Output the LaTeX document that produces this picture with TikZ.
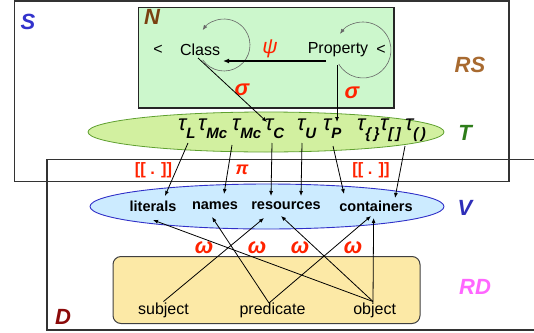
\documentclass[tikz,border=0pt]{standalone}
\usepackage{fontspec}
\setmainfont{Liberation Sans}
\usetikzlibrary{shapes.geometric,arrows.meta}
\definecolor{nfill}{HTML}{CCF7CC}
\definecolor{tfill}{HTML}{D2F0A0}
\definecolor{tline}{HTML}{5FA030}
\definecolor{vfill}{HTML}{CCEBFF}
\definecolor{vline}{HTML}{3030C8}
\definecolor{rdfill}{HTML}{FCE9A6}
\definecolor{sblue}{HTML}{3333CC}
\definecolor{nbrown}{HTML}{7A4010}
\definecolor{rsbrown}{HTML}{A86A30}
\definecolor{tgreen}{HTML}{2E7D1A}
\definecolor{vblue}{HTML}{2E2EB8}
\definecolor{rdpink}{HTML}{FF66FF}
\definecolor{dred}{HTML}{8B0A0A}
\definecolor{lblred}{HTML}{FF2200}
\newcommand{\tsub}[1]{\raisebox{-8pt}{\fontsize{15}{15}\selectfont\bfseries\itshape #1}}
\tikzset{
  frame/.style={draw=black!80, line width=1.3pt, rectangle, inner sep=0pt},
  txt/.style={inner sep=0pt, font=\fontsize{16}{18}\selectfont},
  vtxt/.style={inner sep=0pt, font=\fontsize{14.5}{17}\selectfont\bfseries},
  biglbl/.style={inner sep=0pt, font=\fontsize{22}{24}\selectfont\bfseries\itshape},
  greek/.style={inner sep=0pt, text=lblred, font=\fontsize{22}{24}\selectfont\bfseries\itshape},
  redlbl/.style={inner sep=0pt, text=lblred, font=\fontsize{16.5}{18}\selectfont\bfseries},
  arr/.style={-{Latex[length=5pt,width=4pt]}, line width=0.8pt},
  thickarr/.style={-{Latex[length=6pt,width=5pt]}, line width=1.3pt},
  looparr/.style={-{Latex[length=5pt,width=4pt]}, draw=black!60, line width=0.6pt},
  taun/.style={inner sep=0pt, anchor=base west, font=\fontsize{22}{24}\selectfont\itshape}
}
\begin{document}
\begin{tikzpicture}[x=1pt,y=-1pt]
\useasboundingbox (0,0) rectangle (534,332);
\clip (0,0) rectangle (534,332);
% outer frames
\node[frame, minimum width=494.7pt, minimum height=180.5pt] (Sbox) at (261.65,91.25) {};
\node[frame, minimum width=513pt, minimum height=170.5pt] (Dbox) at (303.5,244.75) {};
% N box
\node[frame, draw=black!85, line width=1.2pt, fill=nfill, minimum width=255.5pt, minimum height=100.5pt] (Nbox) at (266.25,57.75) {};
% T ellipse
\node[ellipse, draw=tline, line width=0.8pt, fill=tfill, minimum width=356pt, minimum height=40pt, inner sep=0pt] (Tell) at (266,132) {};
% V ellipse
\node[ellipse, draw=vline, line width=0.9pt, fill=vfill, minimum width=354pt, minimum height=45pt, inner sep=0pt] (Vell) at (267,206.5) {};
% RD box
\node[rectangle, rounded corners=8pt, draw=black!75, line width=1pt, fill=rdfill, minimum width=307pt, minimum height=67pt, inner sep=0pt] (RDbox) at (266.5,290) {};

% big labels
\node[biglbl, text=sblue] (lS) at (28,22) {S};
\node[biglbl, text=nbrown] (lN) at (152,17) {N};
\node[biglbl, text=rsbrown] (lRS) at (470,65) {RS};
\node[biglbl, text=tgreen] (lT) at (465,133) {T};
\node[biglbl, text=vblue] (lV) at (465,208) {V};
\node[biglbl, text=rdpink] (lRD) at (475,287) {RD};
\node[biglbl, text=dred] (lD) at (63,317) {D};

% N contents
\node[txt] (Class) at (200,50) {Class};
\node[txt] (Prop) at (338,50) {Property};
\node[txt] (lt1) at (158,50) {<};
\node[txt] (lt2) at (381,50) {<};
\node[greek, font=\fontsize{21}{23}\selectfont\itshape] (psi) at (270,49) {ψ};
\node[greek] (sig1) at (242,90) {σ};
\node[greek] (sig2) at (352,93) {σ};

% loops
\coordinate (cl) at (224,45);
\coordinate (pl) at (363,50);
\draw[looparr] ([shift={(145:26)}]cl) arc[start angle=145, end angle=-145, radius=26];
\draw[looparr] ([shift={(150:28)}]pl) arc[start angle=150, end angle=-145, radius=28];

% psi arrow
\draw[thickarr] ([shift={(-12,11)}]Prop.center) -- ([shift={(23,11)}]Class.center);

% tau labels
\node[taun] (tL) at (178,130) {τ\tsub{L}};
\node[taun] (tMa) at (198,130) {τ\tsub{Mc}};
\node[taun] (tMb) at (232,130) {τ\tsub{Mc}};
\node[taun] (tC) at (265,130) {τ\tsub{C}};
\node[taun] (tU) at (297,130) {τ\tsub{U}};
\node[taun] (tP) at (323,130) {τ\tsub{P}};
\node[taun] (tB) at (357,130) {τ\tsub{\{\,\}}};
\node[taun] (tS) at (380,130) {τ\tsub{[\,]}};
\node[taun] (tR) at (405,130) {τ\tsub{(\,)}};

% sigma arrows
\draw[arr] ([shift={(-2,8)}]Class.center) -- ([shift={(2,-8)}]tC.base west);
\draw[arr] ([shift={(-1,15)}]Prop.center) -- ([shift={(14,-8)}]tP.base west);

% V contents
\node[vtxt] (lit) at (153,206) {literals};
\node[vtxt] (names) at (215,206) {names};
\node[vtxt] (res) at (286,206) {resources};
\node[vtxt] (cont) at (376,206) {containers};

% T -> V arrows
\draw[arr] ([shift={(10,13)}]tL.base west) -- ([shift={(12,-10)}]lit.center);
\draw[arr] ([shift={(0,15)}]tMb.base west) -- ([shift={(9,-12)}]names.center);
\draw[arr] ([shift={(7,13)}]tC.base west) -- ([shift={(-15,-10)}]res.center);
\draw[arr] ([shift={(5,13)}]tU.base west) -- ([shift={(15,-10)}]res.center);
\draw[arr] ([shift={(10,16)}]tP.base west) -- ([shift={(-32,-12)}]cont.center);
\draw[arr] ([shift={(0,16)}]tR.base west) -- ([shift={(19,-8)}]cont.center);

% middle red labels
\node[redlbl] (br1) at (153.5,170) {[[ . ]]};
\node[redlbl, font=\fontsize{18}{20}\selectfont\bfseries\itshape] (pi) at (242,170) {π};
\node[redlbl] (br2) at (371,170) {[[ . ]]};

% RD contents
\node[txt] (sub) at (163.5,310) {subject};
\node[txt] (pred) at (272.5,310) {predicate};
\node[txt] (obj) at (374.6,310) {object};

% omega labels
\node[greek] (om1) at (204,248) {ω};
\node[greek] (om2) at (257,248) {ω};
\node[greek] (om3) at (300,248) {ω};
\node[greek] (om4) at (353,248) {ω};

% RD -> V arrows
\draw[arr] ([shift={(0,-8.5)}]sub.center) -- ([shift={(-22,12)}]res.center);
\draw[arr] ([shift={(-3.5,-7)}]pred.center) -- ([shift={(-3,11)}]names.center);
\draw[arr] ([shift={(-3.5,-7)}]pred.center) -- ([shift={(-5,10)}]cont.center);
\draw[arr] ([shift={(-1.6,-8.5)}]obj.center) -- ([shift={(0,14)}]lit.center);
\draw[arr] ([shift={(-1.6,-8.5)}]obj.center) -- ([shift={(-5,10)}]res.center);
\draw[arr] ([shift={(-1.6,-8.5)}]obj.center) -- ([shift={(-2.4,12)}]cont.center);
\end{tikzpicture}
\end{document}
